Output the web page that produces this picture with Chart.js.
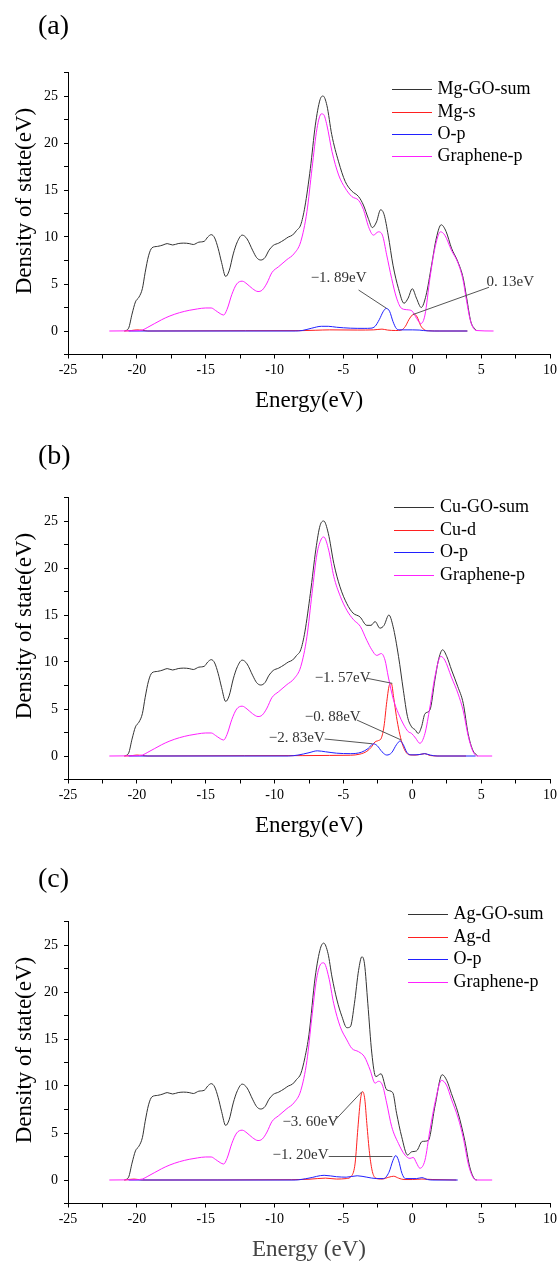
<!DOCTYPE html>
<html>
<head>
<meta charset="utf-8">
<script src="https://cdn.jsdelivr.net/npm/chart.js@4.4.1/dist/chart.umd.min.js"></script>
<style>
  html, body { margin: 0; padding: 0; background: #fff; overflow: hidden; }
  body { width: 560px; height: 1261px; position: relative; font-family: "Liberation Serif", "Times New Roman", serif; }
  .panel { position: absolute; left: 0; width: 560px; height: 425px; }
  .panel canvas { position: absolute; left: 0; top: 0; }
  .tag { position: absolute; left: 38px; font-size: 28px; line-height: 1; color: #000; }
</style>
</head>
<body>
<div class="panel" style="top:0px"><canvas id="chartA" width="560" height="425"></canvas><div class="tag" style="top:11px">(a)</div></div>
<div class="panel" style="top:425px"><canvas id="chartB" width="560" height="425"></canvas><div class="tag" style="top:16px">(b)</div></div>
<div class="panel" style="top:849px"><canvas id="chartC" width="560" height="425"></canvas><div class="tag" style="top:15px">(c)</div></div>
<script>
// ---- data: [energy (eV), DOS] ----
// below about -8 eV the total and graphene-p curves are the same in all three panels
const sumLeft = [[-20.9,0],[-20.6,0.3],[-20.35,1.8],[-20.1,3.1],[-19.85,3.6],[-19.6,4.5],[-19.4,6.2],[-19.15,8.0],
  [-18.9,8.85],[-18.5,9.0],[-18.1,9.15],[-17.8,9.3],[-17.4,9.15],[-17.0,9.3],[-16.6,9.35],[-16.2,9.3],[-15.9,9.2],
  [-15.5,9.45],[-15.1,9.55],[-14.85,10.0],[-14.6,10.25],[-14.35,9.9],[-14.1,8.8],[-13.85,7.3],[-13.55,5.8],[-13.3,6.4],
  [-13.0,8.2],[-12.7,9.5],[-12.35,10.2],[-12.0,9.8],[-11.6,8.6],[-11.3,7.8],[-11.0,7.55],[-10.7,7.8],[-10.4,8.6],
  [-10.1,9.1],[-9.7,9.35],[-9.3,9.7],[-9.0,10.0],[-8.7,10.2],[-8.4,10.7],[-8.1,11.3]];
const grapheneLeft = [[-22,0],[-20.2,0.02],[-19.6,0.1],[-19.2,0.4],[-18.7,0.8],[-18.2,1.2],[-17.6,1.6],[-16.9,1.95],
  [-16.2,2.2],[-15.6,2.35],[-15.0,2.45],[-14.6,2.45],[-14.3,2.2],[-13.95,1.85],[-13.7,1.7],[-13.45,2.3],[-13.1,3.9],
  [-12.75,5.0],[-12.35,5.3],[-12.0,5.0],[-11.6,4.5],[-11.2,4.2],[-10.9,4.35],[-10.55,5.1],[-10.2,6.2],[-9.7,6.85],
  [-9.1,7.6],[-8.6,8.2],[-8.1,9.5]];

// (a) Mg-GO
const sumMgRight = [[-7.8,13.2],[-7.4,17.3],[-7.04,21.9],[-6.7,24.6],[-6.48,25.0],[-6.2,24.0],[-5.85,20.9],[-5.35,18.0],
  [-4.87,15.9],[-4.4,14.9],[-3.9,14.3],[-3.55,13.4],[-3.2,12.0],[-2.9,11.0],[-2.6,11.6],[-2.3,12.9],[-2.05,12.4],
  [-1.75,10.2],[-1.4,7.0],[-1.0,4.5],[-0.6,2.95],[-0.3,3.5],[0.0,4.5],[0.3,3.5],[0.65,2.5],[1.0,3.8],[1.4,7.0],
  [1.75,9.9],[2.1,11.3],[2.45,10.6],[2.85,8.8],[3.3,7.4],[3.7,5.6],[3.95,3.5],[4.25,1.0],[4.65,0.05]];
const grapheneMgRight = [[-7.65,12.7],[-7.28,17.3],[-6.92,21.55],[-6.6,23.1],[-6.45,23.05],[-6.2,21.9],[-5.83,19.1],
  [-5.35,16.6],[-4.87,15.2],[-4.39,14.3],[-3.9,13.9],[-3.54,12.9],[-3.18,11.1],[-2.82,10.2],[-2.46,10.55],[-2.17,10.2],
  [-1.86,8.1],[-1.5,5.6],[-1.14,3.5],[-0.77,2.4],[-0.29,2.25],[0.0,2.1],[0.31,1.35],[0.63,0.8],[0.92,1.7],[1.28,5.6],
  [1.64,8.8],[2.05,10.55],[2.36,10.2],[2.84,8.6],[3.33,7.2],[3.69,5.4],[3.93,3.3],[4.24,1.0],[4.65,0.05],[5.9,0]];
const mgS = [[-20.9,0],[-20.4,0.05],[-20.0,0.12],[-19.6,0.08],[-19.2,0],[-12.1,0.03],[-8,0.04],[-7,0.08],[-6,0.12],
  [-4,0.1],[-2.8,0.12],[-2.2,0.2],[-1.8,0.1],[-1.2,0.05],[-0.8,0.1],[-0.5,0.5],[-0.25,1.2],[0.0,1.7],[0.13,1.8],
  [0.35,1.5],[0.6,0.6],[0.85,0.15],[1.2,0.02],[2,0],[4,0]];
const opMg = [[-20.6,0],[-8.5,0],[-8,0.05],[-7.3,0.3],[-6.6,0.5],[-6.1,0.5],[-5.5,0.4],[-4.5,0.3],[-3.5,0.28],[-3.0,0.3],
  [-2.7,0.5],[-2.4,1.2],[-2.1,2.1],[-1.89,2.4],[-1.65,2.1],[-1.4,1.0],[-1.15,0.25],[-0.9,0.12],[0,0.12],[0.5,0.1],
  [0.8,0.05],[1.5,0],[4.0,0]];

// (b) Cu-GO
const sumCuRight = [[-7.8,13.2],[-7.4,17.3],[-7.0,22.0],[-6.7,24.5],[-6.43,25.0],[-6.1,23.7],[-5.7,20.5],[-5.25,18.0],
  [-4.75,16.2],[-4.3,15.2],[-3.8,14.8],[-3.3,13.9],[-3.0,13.9],[-2.7,14.3],[-2.35,13.6],[-2.05,13.9],[-1.7,15.0],
  [-1.4,13.8],[-1.0,10.6],[-0.65,7.0],[-0.35,4.2],[-0.05,3.1],[0.2,2.8],[0.43,2.4],[0.67,3.1],[0.92,4.5],[1.28,4.9],
  [1.64,8.1],[1.9,10.2],[2.2,11.3],[2.5,10.6],[2.85,9.15],[3.3,7.4],[3.7,5.6],[4.05,2.4],[4.4,0.6],[4.75,0]];
const grapheneCuRight = [[-7.65,12.7],[-7.28,17.3],[-6.92,21.5],[-6.6,23.1],[-6.43,23.3],[-6.07,21.9],[-5.7,19.1],
  [-5.23,17.0],[-4.75,15.5],[-4.27,14.5],[-3.78,13.8],[-3.3,12.3],[-2.94,11.3],[-2.58,10.7],[-2.25,10.9],[-1.98,10.2],
  [-1.74,8.4],[-1.37,6.0],[-1.0,4.5],[-0.65,3.4],[-0.3,2.6],[-0.05,2.4],[0.24,1.9],[0.55,1.35],[0.92,2.4],[1.28,5.2],
  [1.64,8.4],[2.07,10.6],[2.36,10.2],[2.84,8.4],[3.33,6.6],[3.7,4.8],[4.05,2.2],[4.4,0.5],[4.75,0],[5.8,0]];
const cuD = [[-20.9,0],[-20.3,0.05],[-20.0,0.1],[-19.6,0.05],[-19.2,0],[-12.2,0.03],[-8,0.04],[-6,0.06],[-4.5,0.08],
  [-3.8,0.2],[-3.3,0.5],[-3.0,0.9],[-2.7,1.5],[-2.45,1.65],[-2.25,1.9],[-2.05,3.2],[-1.85,5.8],[-1.65,7.6],[-1.52,7.7],
  [-1.35,6.2],[-1.15,4.2],[-0.95,2.6],[-0.75,1.4],[-0.5,0.5],[-0.2,0.12],[0.3,0.1],[0.9,0.25],[1.3,0.05],[2,0],[3.9,0]];
const opCu = [[-20.6,0],[-9,0],[-8.3,0.1],[-7.5,0.35],[-6.9,0.55],[-6.3,0.45],[-5.5,0.3],[-4.5,0.25],[-3.7,0.4],
  [-3.2,0.8],[-2.83,1.3],[-2.55,1.1],[-2.2,0.45],[-1.85,0.1],[-1.5,0.35],[-1.15,1.2],[-0.88,1.6],[-0.65,1.2],
  [-0.4,0.4],[-0.1,0.12],[0.5,0.15],[0.9,0.25],[1.3,0.1],[1.8,0],[4.6,0]];

// (c) Ag-GO
const sumAgRight = [[-7.8,13.0],[-7.5,15.5],[-7.05,21.6],[-6.67,24.65],[-6.43,25.2],[-6.12,24.1],[-5.83,21.6],
  [-5.47,19.15],[-5.11,17.4],[-4.75,16.2],[-4.5,16.3],[-4.2,18.8],[-3.9,22.3],[-3.66,23.75],[-3.47,23.0],[-3.23,18.8],
  [-2.94,13.5],[-2.65,11.0],[-2.27,11.3],[-1.86,9.6],[-1.42,9.3],[-1.14,7.1],[-0.77,4.6],[-0.34,2.65],[-0.05,3.0],
  [0.31,3.1],[0.72,4.1],[1.16,4.2],[1.64,7.8],[2.17,11.2],[2.5,10.6],[2.84,9.2],[3.33,7.1],[3.81,4.2],[4.17,1.4],
  [4.53,0.1],[4.7,0]];
const grapheneAgRight = [[-7.65,12.7],[-7.3,17.2],[-6.95,21.4],[-6.6,23.05],[-6.43,23.1],[-6.07,21.6],[-5.71,18.8],
  [-5.23,16.3],[-4.75,14.9],[-4.39,14.0],[-3.9,13.65],[-3.47,13.1],[-3.06,11.7],[-2.7,10.3],[-2.46,10.5],[-2.17,10.1],
  [-1.86,8.2],[-1.5,5.7],[-1.01,3.9],[-0.53,2.65],[-0.17,2.3],[0.07,2.4],[0.31,1.8],[0.55,1.25],[0.92,2.1],[1.28,5.3],
  [1.69,8.5],[2.12,10.6],[2.48,10.1],[2.84,8.6],[3.33,6.6],[3.7,4.5],[4.1,1.5],[4.5,0.1],[4.7,0],[5.8,0]];
const agD = [[-20.9,0],[-20.2,0.1],[-19.6,0],[-8.75,0.03],[-7.5,0.08],[-6.3,0.2],[-5.5,0.1],[-4.8,0.15],[-4.4,0.45],
  [-4.15,1.8],[-3.95,5.5],[-3.75,8.7],[-3.6,9.4],[-3.45,8.6],[-3.3,6.0],[-3.1,2.8],[-2.9,0.9],[-2.65,0.2],[-2.2,0.1],
  [-1.7,0.3],[-1.35,0.4],[-1.0,0.2],[-0.6,0.05],[0,0.05],[0.7,0.1],[1.5,0.05],[3.2,0]];
const opAg = [[-20.6,0],[-8.5,0],[-7.5,0.2],[-6.4,0.5],[-5.5,0.35],[-4.8,0.3],[-4.0,0.45],[-3.3,0.3],[-2.6,0.15],
  [-2.1,0.15],[-1.7,0.8],[-1.4,2.1],[-1.2,2.6],[-1.0,2.1],[-0.75,0.7],[-0.5,0.15],[0.3,0.15],[0.7,0.25],[1.1,0.05],
  [1.5,0],[3.3,0]];

const seriesNames = {
  a: ['Mg-GO-sum', 'Mg-s', 'O-p', 'Graphene-p'],
  b: ['Cu-GO-sum', 'Cu-d', 'O-p', 'Graphene-p'],
  c: ['Ag-GO-sum', 'Ag-d', 'O-p', 'Graphene-p']
};
const xTicks = [-25, -20, -15, -10, -5, 0, 5, 10];
const yTicks = [0, 5, 10, 15, 20, 25];

// marked peak energies (eV)
const peaksA = [-1.89, 0.13];
const peaksB = [-1.57, -0.88, -2.83];
const peaksC = [-3.60, -1.20];

// where each peak note sits: label centre, leader line start and end (data units)
const notesA = [
  { label: [-5.35, 5.6], from: [-3.9, 4.36], to: [-1.86, 2.4] },
  { label: [7.12, 5.16], from: [5.57, 4.65], to: [0.05, 1.75] }
];
const notesB = [
  { label: [-5.06, 8.27], from: [-3.3, 8.27], to: [-1.45, 7.73] },
  { label: [-5.78, 4.18], from: [-4.03, 3.83], to: [-0.8, 1.7] },
  { label: [-8.39, 1.88], from: [-6.36, 1.81], to: [-2.9, 1.3] }
];
const notesC = [
  { label: [-7.4, 6.2], from: [-5.71, 6.2], to: [-3.66, 9.39] },
  { label: [-8.11, 2.6], from: [-6.07, 2.5], to: [-1.45, 2.5] }
];

const colors = ['#333333', '#ff2020', '#2020ff', '#ff20ff'];
const serif = "'Liberation Serif', 'Times New Roman', serif";

const fmtPeak = (v) => (v < 0 ? '\u2212' : '') + Math.abs(v).toFixed(2).replace('.', '. ') + 'eV';
const toPts = (arr) => arr.map(p => ({ x: p[0], y: p[1] }));
const isMajor = (v, list) => list.some(t => Math.abs(t - v) < 1e-6);

const decor = {
  id: 'decor',
  afterDatasetsDraw(chart, args, opts) {
    const ctx = chart.ctx;
    const xs = chart.scales.x, ys = chart.scales.y;
    ctx.save();
    // peak notes
    ctx.lineWidth = 1;
    ctx.strokeStyle = '#555';
    ctx.fillStyle = '#333';
    ctx.font = '15px ' + serif;
    ctx.textAlign = 'center';
    ctx.textBaseline = 'middle';
    opts.notes.forEach((n, i) => {
      ctx.beginPath();
      ctx.moveTo(xs.getPixelForValue(n.from[0]), ys.getPixelForValue(n.from[1]));
      ctx.lineTo(xs.getPixelForValue(n.to[0]), ys.getPixelForValue(n.to[1]));
      ctx.stroke();
      ctx.fillText(fmtPeak(opts.peaks[i]), xs.getPixelForValue(n.label[0]), ys.getPixelForValue(n.label[1]));
    });
    // legend
    const lg = opts.legend;
    ctx.font = '18px ' + serif;
    ctx.textAlign = 'left';
    chart.data.datasets.forEach((ds, i) => {
      const ly = Math.round(lg.top + i * lg.gap) + 0.5;
      ctx.strokeStyle = ds.borderColor;
      ctx.beginPath();
      ctx.moveTo(lg.x0, ly);
      ctx.lineTo(lg.x1, ly);
      ctx.stroke();
      ctx.fillStyle = '#000';
      ctx.fillText(ds.label, lg.tx, ly);
    });
    // y title
    ctx.translate(24.5, 201);
    ctx.rotate(-Math.PI / 2);
    ctx.font = '23px ' + serif;
    ctx.textAlign = 'center';
    ctx.fillStyle = '#000';
    ctx.fillText('Density of state(eV)', 0, 0);
    ctx.restore();
  }
};

function makeChart(id, names, series, peaks, notes, legend, xTitle, xTitleColor) {
  const datasets = series.map((s, i) => ({
    label: names[i],
    data: toPts(s),
    borderColor: colors[i],
    borderWidth: 1,
    pointRadius: 0,
    fill: false,
    cubicInterpolationMode: 'monotone',
    order: 4 - i
  }));
  const axisGrid = { display: true, drawOnChartArea: false, drawTicks: true, tickLength: 4, color: '#000', lineWidth: 1 };
  return new Chart(document.getElementById(id), {
    type: 'line',
    data: { datasets: datasets },
    options: {
      responsive: false,
      animation: false,
      devicePixelRatio: 1,
      layout: { padding: { left: 0, right: 8, top: 72.5, bottom: 0 } },
      plugins: {
        legend: { display: false },
        tooltip: { enabled: false },
        decor: { peaks: peaks, notes: notes, legend: legend }
      },
      scales: {
        x: {
          type: 'linear',
          min: -25,
          max: 10,
          grid: axisGrid,
          border: { display: true, color: '#000', width: 1 },
          ticks: {
            stepSize: 2.5,
            autoSkip: false,
            maxRotation: 0,
            padding: 3,
            color: '#000',
            font: { family: serif, size: 14 },
            callback: (v) => isMajor(v, xTicks) ? String(v) : ''
          },
          title: {
            display: true,
            text: xTitle,
            color: xTitleColor,
            font: { family: serif, size: 23 },
            padding: { top: 0, bottom: 10 }
          },
          afterFit: (scale) => { scale.height = 70.5; }
        },
        y: {
          type: 'linear',
          min: -2.5,
          max: 27.5,
          grid: axisGrid,
          border: { display: true, color: '#000', width: 1 },
          ticks: {
            stepSize: 2.5,
            autoSkip: false,
            padding: 6,
            color: '#000',
            font: { family: serif, size: 14 },
            callback: (v) => isMajor(v, yTicks) ? String(v) : ''
          },
          afterFit: (scale) => { scale.width = 68; }
        }
      }
    },
    plugins: [decor]
  });
}

makeChart('chartA', seriesNames.a,
  [sumLeft.concat(sumMgRight), mgS, opMg, grapheneLeft.concat(grapheneMgRight)],
  peaksA, notesA, { top: 89.3, gap: 22.3, x0: 392, x1: 432, tx: 437.5 }, 'Energy(eV)', '#000');
makeChart('chartB', seriesNames.b,
  [sumLeft.concat(sumCuRight), cuD, opCu, grapheneLeft.concat(grapheneCuRight)],
  peaksB, notesB, { top: 82.3, gap: 22.5, x0: 394, x1: 434, tx: 440 }, 'Energy(eV)', '#000');
makeChart('chartC', seriesNames.c,
  [sumLeft.concat(sumAgRight), agD, opAg, grapheneLeft.concat(grapheneAgRight)],
  peaksC, notesC, { top: 65, gap: 22.6, x0: 408, x1: 448, tx: 453.5 }, 'Energy (eV)', '#444');
</script>
</body>
</html>
